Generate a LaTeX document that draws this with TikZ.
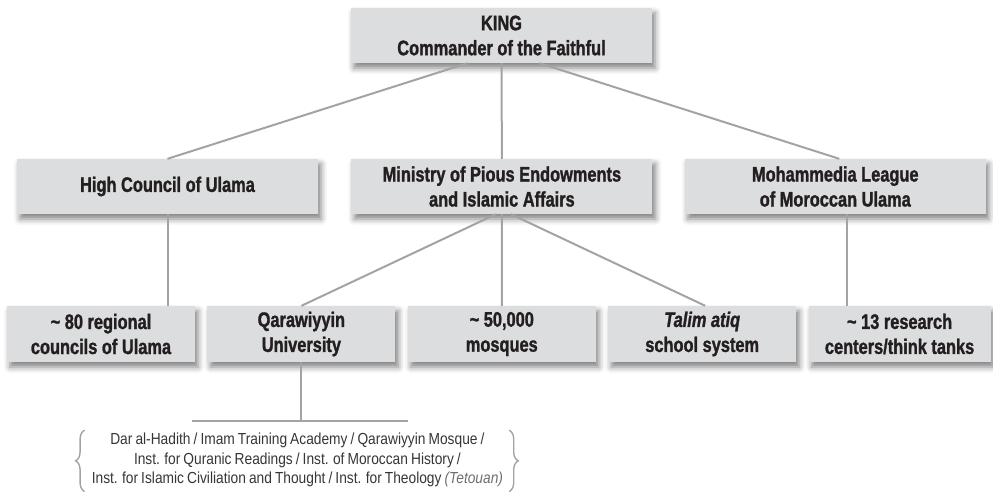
\documentclass[tikz,border=0pt]{standalone}
\usepackage{fontspec}
\setmainfont{Liberation Sans}[FakeStretch=0.78, BoldFeatures={FakeBold=1.3}, BoldItalicFeatures={FakeBold=1.3}]
\newfontfamily\notefont{Liberation Sans}[FakeStretch=0.86, WordSpace=0.8]
\usetikzlibrary{positioning, calc, shadows.blur, decorations.pathreplacing}
\definecolor{Ink}{HTML}{231F20}
\definecolor{Panel}{HTML}{DCDDDE}
\definecolor{Wire}{HTML}{A3A3A3}
\tikzset{
    orgbox/.style={rectangle, fill=Panel, text=Ink, align=center, inner sep=0pt, minimum height=55pt,
        font=\fontsize{21}{25}\selectfont\bfseries,
        blur shadow={shadow xshift=3pt, shadow yshift=-5pt, shadow blur radius=6pt, shadow opacity=50}},
    widebox/.style={orgbox, minimum width=301pt},
    smallbox/.style={orgbox, minimum width=188pt},
    wire/.style={draw=Wire, line width=2pt},
    bracket/.style={draw=Wire, line width=1.4pt, decorate, decoration={brace, amplitude=9pt}},
}
\begin{document}
\begin{tikzpicture}[x=1pt, y=1pt]
    \useasboundingbox (0,0) rectangle (993,-492);

    % Top
    \node[widebox] (king) at (501.5,-35.5) {KING\\Commander of the Faithful};

    % Second row
    \node[widebox] (hcu) at (167.5,-186.5) {High Council of Ulama};
    \node[widebox, right=33pt of hcu] (min) {Ministry of Pious Endowments\\and Islamic Affairs};
    \node[widebox, right=32pt of min] (mlmu) {Mohammedia League\\of Moroccan Ulama};

    % Third row
    \node[smallbox, minimum height=56pt] (reg) at (101,-334) {\textasciitilde{} 80 regional\\councils of Ulama};
    \node[smallbox, minimum height=56pt, right=12pt of reg] (qar) {Qarawiyyin\\University};
    \node[smallbox, minimum height=56pt, right=12pt of qar] (mosq) {\textasciitilde{} 50,000\\mosques};
    \node[smallbox, minimum height=56pt, right=12pt of mosq] (talim) {\textit{Talim atiq}\\school system};
    \node[smallbox, minimum height=56pt, minimum width=182pt, right=12pt of talim] (res) {\textasciitilde{} 13 research\\centers/think tanks};

    % Connectors
    \draw[wire] ([xshift=-34pt]king.south) -- (hcu.north);
    \draw[wire] (king.south) -- (min.north);
    \draw[wire] ([xshift=38pt]king.south) -- ([xshift=4pt]mlmu.north);
    \draw[wire] (hcu.south) -- (hcu.south |- reg.north);
    \draw[wire] ([xshift=-6pt]min.south) -- (qar.north);
    \draw[wire] (min.south) -- (mosq.north);
    \draw[wire] ([xshift=9pt]min.south) -- ([xshift=3pt]talim.north);
    \draw[wire] ([xshift=12pt]mlmu.south) -- ([xshift=12pt]mlmu.south |- res.north);

    % Qarawiyyin institutes
    \coordinate (fork) at ([yshift=-59pt]qar.south);
    \draw[wire] (qar.south) -- (fork);
    \draw[wire] ([xshift=-109pt]fork) -- ([xshift=107pt]fork);
    \node[anchor=north, align=center, inner sep=1pt, text=Ink!90, font=\notefont\fontsize{16}{19.5}\selectfont] (inst) at ([xshift=-4pt, yshift=-11pt]fork) {
        Dar al-Hadith / Imam Training Academy / Qarawiyyin Mosque /\\
        Inst. for Quranic Readings / Inst. of Moroccan History /\\
        Inst. for Islamic Civiliation and Thought / Inst. for Theology \textcolor{Ink!65}{\textit{(Tetouan)}}
    };
    \draw[bracket] ([xshift=-6pt, yshift=-3pt]inst.south west) -- ([xshift=-6pt, yshift=2pt]inst.north west);
    \draw[bracket] ([xshift=5pt, yshift=2pt]inst.north east) -- ([xshift=5pt, yshift=-3pt]inst.south east);
\end{tikzpicture}
\end{document}
